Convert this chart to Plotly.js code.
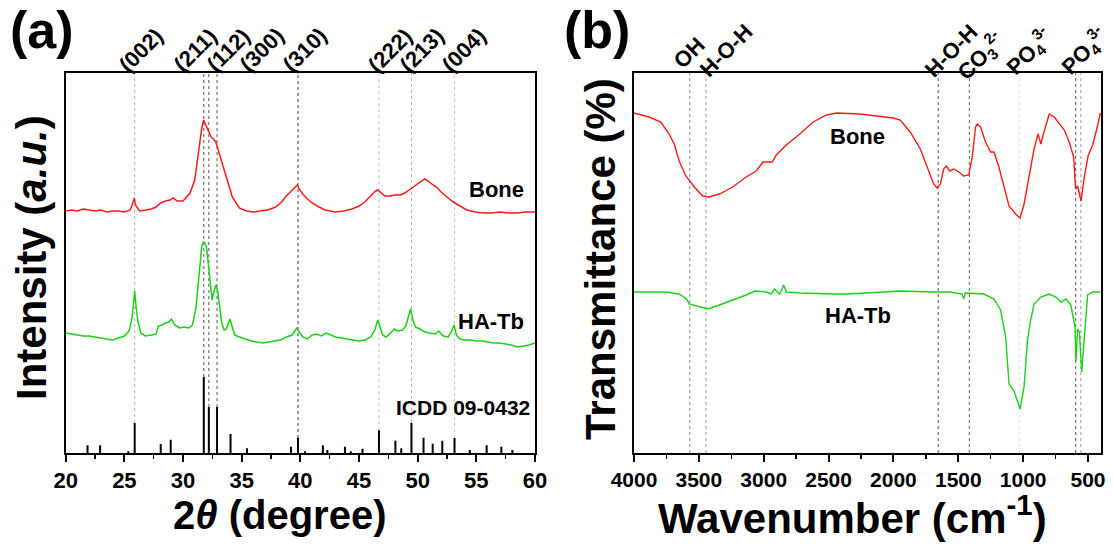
<!DOCTYPE html>
<html><head><meta charset="utf-8">
<script src="https://cdn.plot.ly/plotly-3.0.1.min.js"></script>
<style>html,body{margin:0;padding:0;background:#fff}#chart{width:1113px;height:545px}</style>
</head><body><div id="chart"></div>
<script>
// ---------- XRD data (2θ in degrees, intensity in a.u. incl. stacking offset) ----------
const boneTheta = [20.0,20.5,21.0,21.5,22.0,22.5,23.0,23.5,24.0,24.5,25.0,25.5,25.75,25.85,25.95,26.3,26.8,27.3,27.7,28.1,28.5,28.9,29.15,29.5,30.0,30.3,30.6,31.0,31.27,31.45,31.6,31.75,31.9,32.0,32.2,32.4,32.6,32.8,33.1,33.4,33.7,34.0,34.2,34.5,34.8,35.4,36.0,36.5,37.2,37.9,38.4,38.8,39.2,39.6,39.75,39.9,40.2,40.6,41.0,41.6,42.1,43.0,43.7,44.4,45.0,45.5,45.9,46.3,46.6,46.9,47.2,47.6,48.1,48.5,48.9,49.5,50.0,50.4,50.6,50.9,51.2,51.6,52.0,52.5,52.9,53.3,53.7,54.2,54.9,55.6,56.3,57.0,57.7,58.5,59.2,60.0];
const boneXRD   = [242,243,242,244,243,242,243,241,242,242,241,243,251,255,248,242,243,244,246,250,252,253,255,252,252,256,260,273,296,315,325,333,329,327,322,316,314,311,299,288,276,264,256,250,245,242,241,242,243,246,251,257,262,267,268,264,259,254,250,246,243,241,242,244,247,251,256,261,263,260,257,257,258,258,260,265,269,272,274,272,269,266,261,256,252,249,246,243,241,240,240,241,240,240,241,241];

const hatbTheta = [20.0,20.5,21.0,21.5,22.0,22.5,23.0,23.5,24.0,24.5,25.0,25.4,25.65,25.8,25.88,26.0,26.15,26.4,26.8,27.3,27.7,27.9,28.2,28.5,28.8,29.0,29.3,29.7,30.1,30.5,30.8,31.1,31.3,31.45,31.6,31.75,31.85,32.0,32.15,32.3,32.48,32.6,32.8,32.95,33.1,33.3,33.5,33.7,33.9,34.0,34.2,34.4,34.8,35.3,35.8,36.3,36.8,37.3,37.8,38.3,38.8,39.3,39.7,39.9,40.2,40.6,41.0,41.4,41.8,42.2,42.6,43.0,43.5,44.0,44.5,45.0,45.5,46.0,46.35,46.6,46.8,47.0,47.3,47.7,48.0,48.3,48.7,49.0,49.2,49.4,49.6,49.8,50.2,50.6,51.0,51.5,51.8,52.2,52.6,52.9,53.1,53.3,53.6,54.0,54.5,55.0,55.5,56.0,56.5,57.0,57.5,58.0,58.5,59.0,59.5,60.0];
const hatbXRD   = [120,119,118,117,117,116,115,114,113,115,117,122,135,152,162,146,132,120,117,118,119,127,128,130,131,134,128,125,126,125,128,145,170,195,207,211,210,206,190,172,153,160,168,162,148,130,123,124,131,134,126,118,116,114,112,111,110,111,112,113,116,118,125,121,116,114,118,119,117,120,118,116,115,114,113,112,113,116,123,133,126,118,116,120,124,122,123,127,136,144,133,126,124,121,120,119,122,117,116,122,128,118,114,113,113,112,112,111,110,110,109,108,106,107,108,110];

// ICDD 09-0432 reference pattern (2θ, relative intensity)
const icddTheta = [21.86,22.93,25.34,25.88,28.10,28.95,31.77,32.20,32.90,34.05,35.45,39.20,39.80,40.40,41.92,42.30,43.80,44.30,45.30,46.70,48.10,48.60,49.47,50.50,51.28,52.10,53.14,54.44,55.88,57.13,58.07];
const icddInt   = [7.7,7.7,1.7,30,9,13.3,76,46,46,19,4.7,6.3,15,1.7,7.7,3,6.3,1.7,4.3,22.7,12.3,4.7,30,15.3,9.3,12.3,15,3,7.7,6.3,3];

const hklLabels = ["(002)","(211)","(112)","(300)","(310)","(222)","(213)","(004)"];
const hklTheta  = [25.88,31.77,32.20,32.90,39.80,46.70,49.47,53.14];

// ---------- FTIR data (wavenumber cm-1, transmittance a.u. incl. offset) ----------
const boneWn = [4000,3884,3794,3729,3690,3652,3600,3535,3471,3419,3342,3239,3135,3058,3006,2934,2903,2826,2722,2619,2516,2438,2258,2000,1948,1871,1793,1729,1690,1664,1638,1613,1592,1566,1535,1496,1458,1419,1393,1367,1354,1329,1290,1251,1225,1187,1148,1109,1058,1024,993,954,916,885,864,846,799,761,683,645,611,596,580,554,529,498,464,425,405];
const boneIR = [340,336,331,319,309,292,277,266,257,256,259,266,276,282,291,291,298,308,319,331,338,340,339,335,333,321,304,281,269,265,269,284,287,282,284,281,277,278,296,326,329,326,311,301,301,286,266,247,239,235,249,279,304,319,309,318,339,336,323,311,296,264,267,252,276,298,308,328,340];

const hatbWn = [4000,3755,3652,3595,3574,3523,3432,3342,3239,3135,3071,2980,2942,2916,2877,2846,2826,2722,2464,2361,2206,1948,1690,1561,1471,1458,1445,1303,1225,1174,1135,1109,1071,1024,993,967,942,916,864,799,748,709,670,632,601,593,580,567,549,529,503,464,405];
const hatbIR = [161,161,159,154,149,147,144,148,153,158,162,161,159,164,159,168,161,160,159,159,160,162,161,161,159,154,160,159,154,143,116,69,62,44,66,113,133,149,156,159,156,151,154,148,126,92,124,121,81,113,158,161,161];

const irLabels = ["OH","H-O-H","H-O-H","CO<sub>3</sub><sup>2-</sup>","PO<sub>4</sub><sup>3-</sup>","PO<sub>4</sub><sup>3-</sup>"];
const irBands  = [3570,3445,1655,1415,1030,595];
const irExtraBands = [555];

// ---------- layout helpers ----------
const W = 1113, H = 545;
const FONT = "Liberation Sans, Arial, sans-serif";
const PX = p => p / W, PY = p => 1 - p / H;
const yTop = 380;
const RED = "#ff1a1a", GREEN = "#19d219";

const icddX = [], icddY = [];
icddTheta.forEach((t, i) => { icddX.push(t, t, null); icddY.push(0, icddInt[i], null); });

const traces = [
  {x: boneTheta, y: boneXRD, xaxis: 'x', yaxis: 'y', mode: 'lines', line: {color: RED, width: 1.5}, hoverinfo: 'skip'},
  {x: hatbTheta, y: hatbXRD, xaxis: 'x', yaxis: 'y', mode: 'lines', line: {color: GREEN, width: 1.5}, hoverinfo: 'skip'},
  {x: icddX, y: icddY, xaxis: 'x', yaxis: 'y', mode: 'lines', line: {color: '#000', width: 2}, connectgaps: false, hoverinfo: 'skip'},
  {x: boneWn, y: boneIR, xaxis: 'x2', yaxis: 'y2', mode: 'lines', line: {color: RED, width: 1.4}, hoverinfo: 'skip'},
  {x: hatbWn, y: hatbIR, xaxis: 'x2', yaxis: 'y2', mode: 'lines', line: {color: GREEN, width: 1.4}, hoverinfo: 'skip'}
];

// dotted guide lines
const hklLineColors = ["#b0b0b0","#555","#555","#555","#444","#bdbdbd","#b0b0b0","#c4c4c4"];
const shapes = [];
hklTheta.forEach((t, i) => {
  let best = 0, bd = 1e9;
  icddTheta.forEach((c, j) => { const d = Math.abs(c - t); if (d < bd) { bd = d; best = j; } });
  shapes.push({type: 'line', xref: 'x', yref: 'y', x0: t, x1: t, y0: icddInt[best], y1: yTop,
               line: {color: hklLineColors[i], width: 1, dash: 'dot'}, layer: 'below'});
});
const irAll = irBands.concat(irExtraBands);
const irLineColors = ["#888","#999","#555","#666","#e0e0e0","#555","#999"];
irAll.forEach((b, i) => {
  shapes.push({type: 'line', xref: 'x2', yref: 'y2 domain', x0: b, x1: b, y0: 0, y1: 1,
               line: {color: irLineColors[i], width: 1, dash: 'dot'}, layer: 'below'});
});

const bold = (size) => ({family: FONT, size: size, color: '#000', weight: 700});
const hklShift = [6, -9, 19, 44, 6, 11, 10, 9];
const irShift = [0, 20, 13, 11, 10, 8];
const irY = [53, 50, 50, 56, 51, 51];

const annotations = [];
hklLabels.forEach((l, i) => annotations.push({text: l, xref: 'x', yref: 'paper', x: hklTheta[i], xshift: hklShift[i],
  y: PY(50), xanchor: 'center', yanchor: 'middle', textangle: -45, showarrow: false, font: bold(22)}));
irLabels.forEach((l, i) => annotations.push({text: l, xref: 'x2', yref: 'paper', x: irBands[i], xshift: irShift[i],
  y: PY(irY[i]), xanchor: 'center', yanchor: 'middle', textangle: -45, showarrow: false, font: bold(22)}));

annotations.push(
  {text: "Bone", xref: 'x', yref: 'y', x: 59.2, y: 263, xanchor: 'right', yanchor: 'middle', showarrow: false, font: bold(22)},
  {text: "HA-Tb", xref: 'x', yref: 'y', x: 59.2, y: 132, xanchor: 'right', yanchor: 'middle', showarrow: false, font: bold(22)},
  {text: "ICDD 09-0432", xref: 'x', yref: 'y', x: 59.75, y: 46, xanchor: 'right', yanchor: 'middle', showarrow: false, font: bold(21)},
  {text: "Bone", xref: 'x2', yref: 'y2', x: 2274, y: 316, xanchor: 'center', yanchor: 'middle', showarrow: false, font: bold(22)},
  {text: "HA-Tb", xref: 'x2', yref: 'y2', x: 2274, y: 138, xanchor: 'center', yanchor: 'middle', showarrow: false, font: bold(22)},
  {text: "(a)", xref: 'paper', yref: 'paper', x: PX(42), y: PY(30), xanchor: 'center', yanchor: 'middle', showarrow: false, font: bold(52)},
  {text: "(b)", xref: 'paper', yref: 'paper', x: PX(597), y: PY(30), xanchor: 'center', yanchor: 'middle', showarrow: false, font: bold(52)},
  {text: "2<i>θ</i> (degree)", xref: 'paper', yref: 'paper', x: PX(280), y: PY(515), xanchor: 'center', yanchor: 'middle', showarrow: false, font: bold(40)},
  {text: "Wavenumber (cm<sup>-1</sup>)", xref: 'paper', yref: 'paper', x: PX(852), y: PY(515), xanchor: 'center', yanchor: 'middle', showarrow: false, font: bold(42)},
  {text: "Intensity (<i>a.u.</i>)", xref: 'paper', yref: 'paper', x: PX(31), y: PY(258), xanchor: 'center', yanchor: 'middle', textangle: -90, showarrow: false, font: bold(42)},
  {text: "Transmittance (%)", xref: 'paper', yref: 'paper', x: PX(600), y: PY(259), xanchor: 'center', yanchor: 'middle', textangle: -90, showarrow: false, font: bold(42)}
);

const axisCommon = {showline: true, linewidth: 2, linecolor: '#000', mirror: true, showgrid: false, zeroline: false};
const layout = {
  width: W, height: H, margin: {l: 0, r: 0, t: 0, b: 0}, showlegend: false,
  paper_bgcolor: '#fff', plot_bgcolor: '#fff',
  xaxis: Object.assign({}, axisCommon, {domain: [PX(65.7), PX(535)], range: [20, 60], anchor: 'y',
    tickmode: 'linear', tick0: 20, dtick: 5, ticks: 'outside', ticklen: 7, tickwidth: 2, tickcolor: '#000',
    minor: {ticks: 'outside', dtick: 2.5, tick0: 20, ticklen: 4, tickwidth: 1.5, tickcolor: '#000'},
    tickfont: bold(22)}),
  yaxis: Object.assign({}, axisCommon, {domain: [PY(453), PY(73)], range: [0, yTop], anchor: 'x', showticklabels: false, ticks: ''}),
  xaxis2: Object.assign({}, axisCommon, {domain: [PX(634), PX(1101)], range: [4000, 400], anchor: 'y2',
    tickmode: 'linear', tick0: 0, dtick: 500, ticks: 'outside', ticklen: 7, tickwidth: 2, tickcolor: '#000',
    minor: {ticks: 'outside', dtick: 250, tick0: 0, ticklen: 4, tickwidth: 1.5, tickcolor: '#000'},
    tickfont: bold(21)}),
  yaxis2: Object.assign({}, axisCommon, {domain: [PY(453), PY(73)], range: [0, yTop], anchor: 'x2', showticklabels: false, ticks: ''}),
  shapes: shapes,
  annotations: annotations
};

Plotly.newPlot('chart', traces, layout, {staticPlot: true, displayModeBar: false});
</script>
</body></html>
